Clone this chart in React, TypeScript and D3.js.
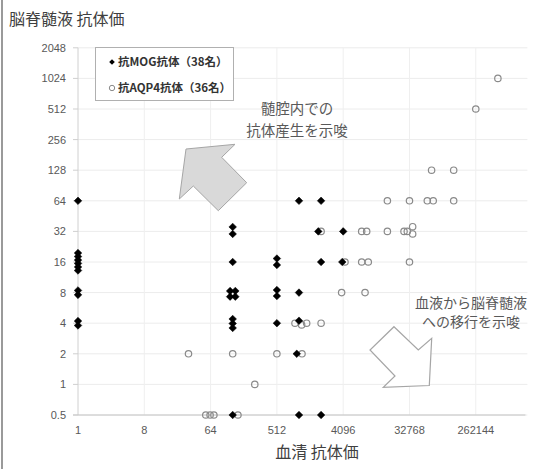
import React from 'react';
import * as d3 from 'd3';

const W = 533;
const H = 469;

// Axis ticks
const xTickValues = [1, 8, 64, 512, 4096, 32768, 262144];
const yTickValues = [0.5, 1, 2, 4, 8, 16, 32, 64, 128, 256, 512, 1024, 2048];

// Series labels
const seriesNames = ['抗MOG抗体（38名）', '抗AQP4抗体（36名）'];
const yTitle = '脳脊髄液 抗体価';
const xTitle = '血清 抗体価';
const note1 = ['髄腔内での', '抗体産生を示唆'];
const note2 = ['血液から脳脊髄液', 'への移行を示唆'];

// 抗MOG抗体: serum titre, CSF titre (overlapping points slightly offset as in the picture)
const mogSerum = [
  1, 1, 1, 1, 1, 1, 1, 1, 1, 1, 1,
  128, 128, 128, 118, 118, 139, 139, 128, 128, 128, 128,
  512, 512, 512, 512, 512,
  1024, 1024, 1024, 955, 1024,
  2048, 1875, 2048, 2048,
  4096, 3980,
];
const mogCsf = [
  64, 19.6, 18.1, 16.7, 15.5, 14.3, 13.2, 8.4, 7.6, 4.2, 3.8,
  35.4, 30.2, 16, 8.3, 7.3, 8.3, 7.3, 4.4, 3.97, 3.59, 0.5,
  17.3, 14.95, 8.48, 7.4, 4,
  64, 8, 4.23, 2, 0.5,
  64, 32, 16, 0.5,
  32, 16,
];

// 抗AQP4抗体: serum titre, CSF titre
const aqp4Serum = [
  524288, 262144,
  65536, 131072,
  16384, 32768, 57300, 69000, 131072,
  2048, 7318, 8560, 16384, 27600, 30600, 36200, 36200,
  4337, 7318, 9000, 32768,
  3900, 8130,
  903, 1113, 1303, 2048,
  32, 128, 512, 1126,
  256,
  55, 63, 71, 151,
];
const aqp4Csf = [
  1024, 512,
  128, 128,
  64, 64, 64, 64, 64,
  32, 32, 32, 32, 32, 32, 35.6, 30.2,
  16, 16, 16, 16,
  8, 8,
  4, 3.85, 4, 4,
  2, 2, 2, 2,
  1,
  0.5, 0.5, 0.5, 0.5,
];

const FONT_LATIN = '"Liberation Sans", Arial, "Noto Sans CJK JP", sans-serif';
const FONT_JP = '"Noto Sans CJK JP", "Noto Sans", sans-serif';

function diamondPath(cx: number, cy: number, r: number) {
  return `M${cx},${cy - r}L${cx + r},${cy}L${cx},${cy + r}L${cx - r},${cy}Z`;
}

export default function App() {
  const x = d3.scaleLog().base(2).domain([1, Math.pow(2, 20.2)]).range([78, 524.4]);
  const y = d3.scaleLog().base(2).domain([0.5, 2048]).range([415, 47.8]);

  const [x0, x1] = x.range();
  const [y0, y1] = y.range();

  const mog = mogSerum.map((s, i) => ({ s, c: mogCsf[i] }));
  const aqp = aqp4Serum.map((s, i) => ({ s, c: aqp4Csf[i] }));

  const arrowUp = [
    [186, 149], [235, 144.3], [221.7, 157.3], [246.7, 182.7],
    [218.3, 210.7], [193.3, 186], [179.3, 199],
  ];
  const arrowDown = [
    [394, 326.7], [418.3, 350], [431.7, 338.3], [429.3, 385.5],
    [383.3, 387.3], [395, 376], [370, 350],
  ];
  const poly = (pts: number[][]) => pts.map((p) => p.join(',')).join(' ');

  return (
    <svg
      width={W}
      height={H}
      viewBox={`0 0 ${W} ${H}`}
      style={{ position: 'absolute', left: 0, top: 0, background: '#fff' }}
    >
      <rect x={0} y={0} width={W} height={H} fill="#fff" />
      {/* left frame line */}
      <line x1={2} x2={2} y1={0} y2={H} stroke="#9a9a9a" strokeWidth={2} />

      {/* gridlines */}
      {yTickValues.map((v) => (
        <line key={'gy' + v} x1={x0} x2={x1 + 3} y1={y(v)} y2={y(v)} stroke="#ececec" strokeWidth={1} />
      ))}
      {xTickValues.slice(1).map((v) => (
        <line key={'gx' + v} x1={x(v)} x2={x(v)} y1={y1} y2={y0} stroke="#efefef" strokeWidth={1} />
      ))}

      {/* axes */}
      <line x1={x0} x2={x0} y1={y1} y2={y0} stroke="#d0d0d0" strokeWidth={1} />
      <line x1={x0 - 5} x2={x1 + 1} y1={y0} y2={y0} stroke="#c4c4c4" strokeWidth={1.2} />
      {yTickValues.map((v) => (
        <line key={'ty' + v} x1={x0 - 5} x2={x0} y1={y(v)} y2={y(v)} stroke="#cfcfcf" />
      ))}

      {/* y tick labels */}
      {yTickValues.map((v) => (
        <text
          key={'ly' + v}
          x={66}
          y={y(v) + 4}
          textAnchor="end"
          fontFamily={FONT_LATIN}
          fontSize={11}
          fill="#595959"
        >
          {String(v)}
        </text>
      ))}
      {/* x tick labels */}
      {xTickValues.map((v) => (
        <text
          key={'lx' + v}
          x={x(v)}
          y={434}
          textAnchor="middle"
          fontFamily={FONT_LATIN}
          fontSize={11}
          fill="#595959"
        >
          {String(v)}
        </text>
      ))}

      {/* axis titles */}
      <text x={9} y={25} fontFamily={FONT_JP} fontSize={16} fill="#404040">
        {yTitle}
      </text>
      <text x={317} y={458} textAnchor="middle" fontFamily={FONT_JP} fontSize={16} fill="#404040">
        {xTitle}
      </text>

      {/* annotations */}
      <polygon points={poly(arrowUp)} fill="#d9d9d9" stroke="#a6a6a6" strokeWidth={1} />
      <polygon points={poly(arrowDown)} fill="#fff" stroke="#a6a6a6" strokeWidth={1.2} />
      {note1.map((t, i) => (
        <text key={'n1' + i} x={297} y={113.5 + i * 22} textAnchor="middle" fontFamily={FONT_JP} fontSize={14.5} fill="#595959">
          {t}
        </text>
      ))}
      {note2.map((t, i) => (
        <text key={'n2' + i} x={471} y={307.5 + i * 19.5} textAnchor="middle" fontFamily={FONT_JP} fontSize={14} fill="#595959">
          {t}
        </text>
      ))}

      {/* AQP4 points */}
      {aqp.map((d, i) => (
        <circle key={'a' + i} cx={x(d.s)} cy={y(d.c)} r={3.2} fill="none" stroke="#8a8a8a" strokeWidth={1.2} />
      ))}
      {/* MOG points */}
      {mog.map((d, i) => (
        <path key={'m' + i} d={diamondPath(x(d.s), y(d.c), 3.8)} fill="#000" stroke="#000" strokeWidth={0.5} />
      ))}

      {/* legend */}
      <rect x={95.5} y={47.5} width={138} height={53} fill="#fff" stroke="#b0b0b0" strokeWidth={1} />
      <path d={diamondPath(112, 62, 2.8)} fill="#000" />
      <text x={118} y={66} fontFamily={FONT_JP} fontSize={11.5} fontWeight="bold" fill="#333">
        {seriesNames[0]}
      </text>
      <circle cx={112} cy={88} r={2.7} fill="none" stroke="#8a8a8a" strokeWidth={1} />
      <text x={118} y={92} fontFamily={FONT_JP} fontSize={11.5} fontWeight="bold" fill="#333">
        {seriesNames[1]}
      </text>
    </svg>
  );
}
